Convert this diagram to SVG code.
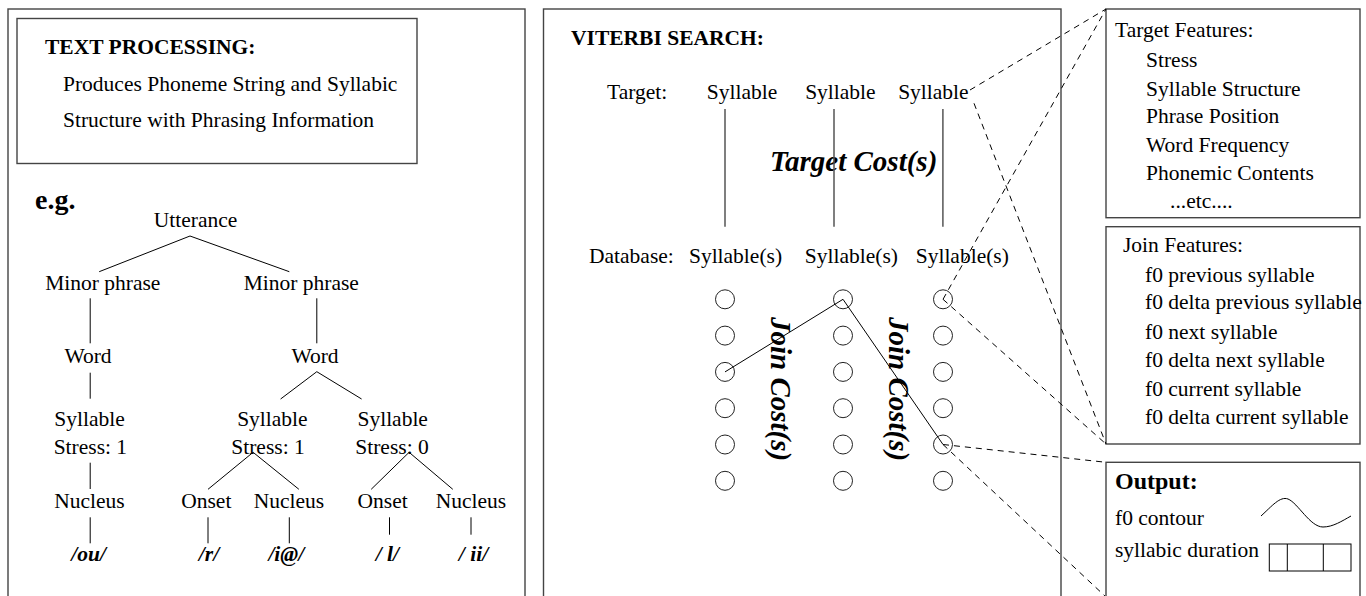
<svg xmlns="http://www.w3.org/2000/svg" width="1366" height="596" viewBox="0 0 1366 596">
<style>
text{font-family:"Liberation Serif","Times New Roman",serif;font-size:21.5px;fill:#000}
.b{font-weight:bold}
.bi{font-weight:bold;font-style:italic}
.m{text-anchor:middle}
.box{fill:none;stroke:#444;stroke-width:1.4}
.ln{stroke:#000;stroke-width:1;fill:none}
.vl{stroke:#555;stroke-width:1.5}
.ds{stroke:#000;stroke-width:1;stroke-dasharray:6,5;fill:none}
.c{fill:#fff;stroke:#222;stroke-width:1}
</style>
<rect width="1366" height="596" fill="#fff"/>

<g id="left-panel">
<rect class="box" x="8" y="9" width="517" height="600"/>
</g>
<g id="text-processing">
<rect class="box" x="17" y="18.5" width="400" height="145"/>
<text class="b" x="45" y="53.5">TEXT PROCESSING:</text>
<text x="63" y="90.7">Produces Phoneme String and Syllabic</text>
<text x="63" y="126.7">Structure with Phrasing Information</text>
</g>
<g id="eg"><text class="b" x="35" y="209" style="font-size:28px">e.g.</text></g>

<g id="tree-nodes">
<text class="m" x="195.5" y="226.7">Utterance</text>
<text class="m" x="102.8" y="290">Minor phrase</text>
<text class="m" x="301.3" y="290">Minor phrase</text>
<text class="m" x="88" y="362.7">Word</text>
<text class="m" x="315" y="362.7">Word</text>
<text class="m" x="89.5" y="426">Syllable</text>
<text class="m" x="90.4" y="454">Stress: 1</text>
<text class="m" x="272.4" y="426">Syllable</text>
<text class="m" x="268" y="454">Stress: 1</text>
<text class="m" x="392.7" y="426">Syllable</text>
<text class="m" x="392" y="454">Stress: 0</text>
<text class="m" x="89.5" y="508.3">Nucleus</text>
<text class="m" x="206.3" y="508.3">Onset</text>
<text class="m" x="289" y="508.3">Nucleus</text>
<text class="m" x="382.6" y="508.3">Onset</text>
<text class="m" x="471" y="508.3">Nucleus</text>
<text class="bi m" x="88.7" y="561">/ou/</text>
<text class="bi m" x="209" y="561">/r/</text>
<text class="bi m" x="286.3" y="561">/i@/</text>
<text class="bi m" x="387.4" y="561">/ l/</text>
<text class="bi m" x="473.5" y="561">/ ii/</text>
</g>

<g id="middle-panel">
<rect class="box" x="543.5" y="9" width="517.5" height="600"/>
<text class="b" x="571" y="45">VITERBI SEARCH:</text>
<text x="607" y="99.3">Target:</text>
<text class="m" x="742" y="99.3">Syllable</text>
<text class="m" x="840.4" y="99.3">Syllable</text>
<text class="m" x="933.4" y="99.3">Syllable</text>
<text x="589" y="263.3">Database:</text>
<text class="m" x="735.5" y="263.3">Syllable(s)</text>
<text class="m" x="851.4" y="263.3">Syllable(s)</text>
<text class="m" x="962.3" y="263.3">Syllable(s)</text>
<text class="bi" x="770" y="171" style="font-size:29px">Target Cost(s)</text>
<text class="bi" transform="translate(771,317) rotate(90)" style="font-size:29px">Join Cost(s)</text>
<text class="bi" transform="translate(889,317) rotate(90)" style="font-size:29px">Join Cost(s)</text>
</g>

<g id="candidates">
<circle class="c" cx="725" cy="299.3" r="9.5"/><circle class="c" cx="725" cy="335.6" r="9.5"/><circle class="c" cx="725" cy="371.9" r="9.5"/><circle class="c" cx="725" cy="408.2" r="9.5"/><circle class="c" cx="725" cy="444.5" r="9.5"/><circle class="c" cx="725" cy="480.8" r="9.5"/>
<circle class="c" cx="843" cy="299.3" r="9.5"/><circle class="c" cx="843" cy="335.6" r="9.5"/><circle class="c" cx="843" cy="371.9" r="9.5"/><circle class="c" cx="843" cy="408.2" r="9.5"/><circle class="c" cx="843" cy="444.5" r="9.5"/><circle class="c" cx="843" cy="480.8" r="9.5"/>
<circle class="c" cx="943" cy="299.3" r="9.5"/><circle class="c" cx="943" cy="335.6" r="9.5"/><circle class="c" cx="943" cy="371.9" r="9.5"/><circle class="c" cx="943" cy="408.2" r="9.5"/><circle class="c" cx="943" cy="444.5" r="9.5"/><circle class="c" cx="943" cy="480.8" r="9.5"/>
</g>

<g id="target-features">
<rect class="box" x="1106" y="9" width="254" height="208.7"/>
<text x="1115" y="37.3">Target Features:</text>
<text x="1146" y="66.7">Stress</text>
<text x="1146" y="95.7">Syllable Structure</text>
<text x="1146" y="123.3">Phrase Position</text>
<text x="1146" y="151.7">Word Frequency</text>
<text x="1146" y="180">Phonemic Contents</text>
<text x="1170" y="208.3">...etc....</text>
</g>

<g id="join-features">
<rect class="box" x="1106" y="226.7" width="254" height="217.3"/>
<text x="1123" y="251.7">Join Features:</text>
<text x="1145" y="281.7">f0 previous syllable</text>
<text x="1145" y="309.3">f0 delta previous syllable</text>
<text x="1145" y="339.3">f0 next syllable</text>
<text x="1145" y="367.3">f0 delta next syllable</text>
<text x="1145" y="396">f0 current syllable</text>
<text x="1145" y="424">f0 delta current syllable</text>
</g>

<g id="output">
<rect class="box" x="1106" y="462.3" width="254" height="150"/>
<text class="b" x="1115" y="489.3" style="font-size:24px">Output:</text>
<text x="1115" y="525">f0 contour</text>
<text x="1115" y="557.3">syllabic duration</text>
<path class="ln" d="M1261,516 C1272,506 1280,496 1288,499 C1298,503 1310,527 1323,527 C1333,527 1342,521 1351,516"/>
<rect class="ln" x="1269.3" y="544" width="81.7" height="27"/>
<line class="ln" x1="1287.3" y1="544" x2="1287.3" y2="571"/>
<line class="ln" x1="1323.3" y1="544" x2="1323.3" y2="571"/>
</g>

<g id="connectors">
<path class="ln" d="M99.2,271.7 L190,236 L289.3,271.7"/>
<line class="ln" x1="90.2" y1="298.3" x2="90.2" y2="343.3"/>
<line class="ln" x1="316.8" y1="298.3" x2="316.8" y2="343.3"/>
<line class="ln" x1="90.2" y1="372.7" x2="90.2" y2="398.7"/>
<path class="ln" d="M280.6,399 L316.8,371.7 L361.6,399"/>
<line class="ln" x1="90.2" y1="462.7" x2="90.2" y2="489"/>
<path class="ln" d="M208,489.3 L253.1,452.3 L298.9,489.3"/>
<path class="ln" d="M371.2,489.3 L409.1,452.3 L452.8,489.3"/>
<line class="ln" x1="90.2" y1="517.3" x2="90.2" y2="543.3"/>
<line class="ln" x1="208" y1="517.3" x2="208" y2="543.3"/>
<line class="ln" x1="289.3" y1="517.3" x2="289.3" y2="543.3"/>
<line class="ln" x1="389.5" y1="517.3" x2="389.5" y2="534.7"/>
<line class="ln" x1="471" y1="517.3" x2="471" y2="534.7"/>
<line class="vl" x1="725" y1="109" x2="725" y2="226.7"/>
<line class="vl" x1="834" y1="109" x2="834" y2="226.7"/>
<line class="vl" x1="942.9" y1="109" x2="942.9" y2="226.7"/>
<path class="ln" d="M725,371.9 L843,299.3 L943,444.5"/>
<line class="ds" x1="970" y1="90" x2="1106" y2="9"/>
<line class="ds" x1="974" y1="103.3" x2="1106" y2="444"/>
<line class="ds" x1="943" y1="299.3" x2="1106" y2="9"/>
<line class="ds" x1="943" y1="299.3" x2="1106" y2="444"/>
<line class="ds" x1="943" y1="444.5" x2="1106" y2="462.3"/>
<line class="ds" x1="943" y1="444.5" x2="1106" y2="597"/>
</g>
</svg>
